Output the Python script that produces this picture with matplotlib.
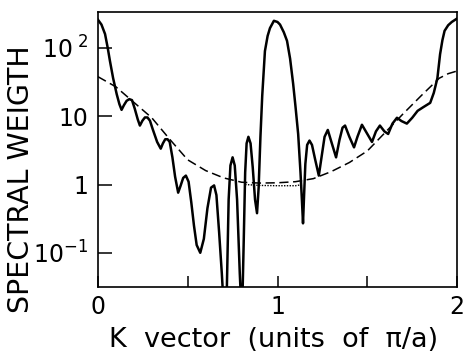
import numpy as np
import matplotlib
matplotlib.use('Agg')
import matplotlib.pyplot as plt

plt.rcParams['font.family'] = ['DejaVu Sans']
plt.rcParams['mathtext.default'] = 'regular'

# --- data ---
k_solid = [0.000, 0.020, 0.040, 0.055, 0.067, 0.085, 0.105, 0.120, 0.132, 0.145,
           0.160, 0.175, 0.190, 0.205, 0.222, 0.234, 0.248, 0.262, 0.276, 0.290,
           0.305, 0.330, 0.350, 0.362, 0.375, 0.388, 0.400, 0.415, 0.430, 0.447,
           0.460, 0.475, 0.490, 0.505, 0.520, 0.535, 0.550, 0.570, 0.590, 0.610,
           0.630, 0.647, 0.660, 0.675, 0.690, 0.705, 0.718, 0.728, 0.738, 0.750,
           0.762, 0.775, 0.790, 0.802, 0.812, 0.820, 0.828, 0.838, 0.850, 0.862,
           0.875, 0.886, 0.895, 0.905, 0.915, 0.930, 0.945, 0.958, 0.980, 1.000,
           1.014, 1.035, 1.053, 1.070, 1.087, 1.100, 1.115, 1.128, 1.136, 1.142,
           1.148, 1.155, 1.165, 1.178, 1.192, 1.210, 1.230, 1.245, 1.262, 1.280,
           1.300, 1.326, 1.345, 1.362, 1.376, 1.400, 1.426, 1.445, 1.470, 1.500,
           1.526, 1.548, 1.570, 1.595, 1.616, 1.640, 1.665, 1.690, 1.720, 1.750,
           1.780, 1.810, 1.850, 1.870, 1.890, 1.905, 1.918, 1.930, 1.950, 1.970,
           1.995, 2.000]
w_solid = [260, 220, 160, 100, 65, 36, 21, 15, 12.4, 14.5,
           16.8, 17.8, 17.2, 13, 9, 7.3, 8.6, 9.6, 9.6, 8.6,
           6.5, 4.2, 3.35, 4.0, 4.6, 4.6, 4.2, 2.5, 1.3, 0.76,
           0.95, 1.25, 1.35, 1.1, 0.55, 0.25, 0.13, 0.10, 0.16, 0.45,
           0.9, 0.97, 0.7, 0.2, 0.05, 0.01, 0.03, 0.6, 1.9, 2.5,
           1.9, 0.6, 0.05, 0.01, 0.15, 1.5, 4.0, 5.0, 4.0, 1.8,
           0.6, 0.38, 0.9, 5, 20, 90, 150, 195, 250, 240,
           220, 170, 127, 70, 30, 14, 5.5, 1.5, 0.58, 0.27,
           0.7, 2.0, 3.8, 4.4, 3.8, 2.3, 1.35, 2.5, 5, 6.3,
           4.2, 2.5, 4.5, 6.8, 7.3, 5, 3.5, 5, 7.5, 5.5,
           4.2, 6, 7.3, 6, 5.5, 7.8, 9.5, 8.5, 7.8, 9.5,
           12, 13.5, 15.7, 22, 36, 81, 130, 178, 215, 240,
           265, 270]

k_dashed = [0.0, 0.1, 0.2, 0.3, 0.4, 0.5, 0.6, 0.7, 0.8, 0.9, 1.0,
            1.1, 1.2, 1.3, 1.4, 1.5, 1.6, 1.7, 1.8, 1.9, 1.95, 2.0]
w_dashed = [38, 27, 16, 9.5, 4.6, 2.3, 1.6, 1.25, 1.08, 1.05, 1.06,
            1.1, 1.22, 1.55, 2.1, 3.1, 5.8, 10.9, 20, 36, 42, 46]

k_dotted = [0.82, 0.90, 1.00, 1.10, 1.14]
w_dotted = [1.0, 0.97, 0.96, 0.96, 1.0]

xtick_pos = [0, 0.5, 1, 1.5, 2]
xtick_lab = ['0', '', '1', '', '2']
ytick_pos = [0.1, 1, 10, 100]
ytick_lab = ['$10^{-1}$', '1', '10', '$10^{\\ 2}$']

fig = plt.figure(figsize=(4.66, 3.56), dpi=100)
ax = fig.add_axes([0.210, 0.194, 0.771, 0.772])

ax.plot(k_solid, w_solid, color='black', lw=1.8, solid_joinstyle='round')
ax.plot(k_dashed, w_dashed, color='black', lw=1.1, dashes=(6, 3))
ax.plot(k_dotted, w_dotted, color='black', lw=1.0, linestyle=(0, (1, 1)))

ax.set_yscale('log')
ax.set_xlim(0, 2)
ax.set_ylim(10 ** -1.5, 10 ** 2.525)

ax.set_xticks(xtick_pos)
ax.set_xticklabels(xtick_lab)
ax.set_yticks(ytick_pos)
ax.set_yticklabels(ytick_lab)
ax.minorticks_off()
ax.tick_params(axis='both', direction='in', width=1.1, labelsize=17, colors='black')
ax.tick_params(axis='x', length=8, pad=6)
ax.tick_params(axis='y', length=10, pad=7)

for s in ax.spines.values():
    s.set_linewidth(1.2)

# axis titles placed by hand to match the reference
fig.text(0.587, 0.045, 'K  vector  (units  of  π/a)', fontsize=19.5,
         ha='center', va='center')
fig.text(0.044, 0.497, 'SPECTRAL WEIGTH', fontsize=20.5, rotation=90,
         ha='center', va='center')

fig.savefig('out.png', dpi=100)
